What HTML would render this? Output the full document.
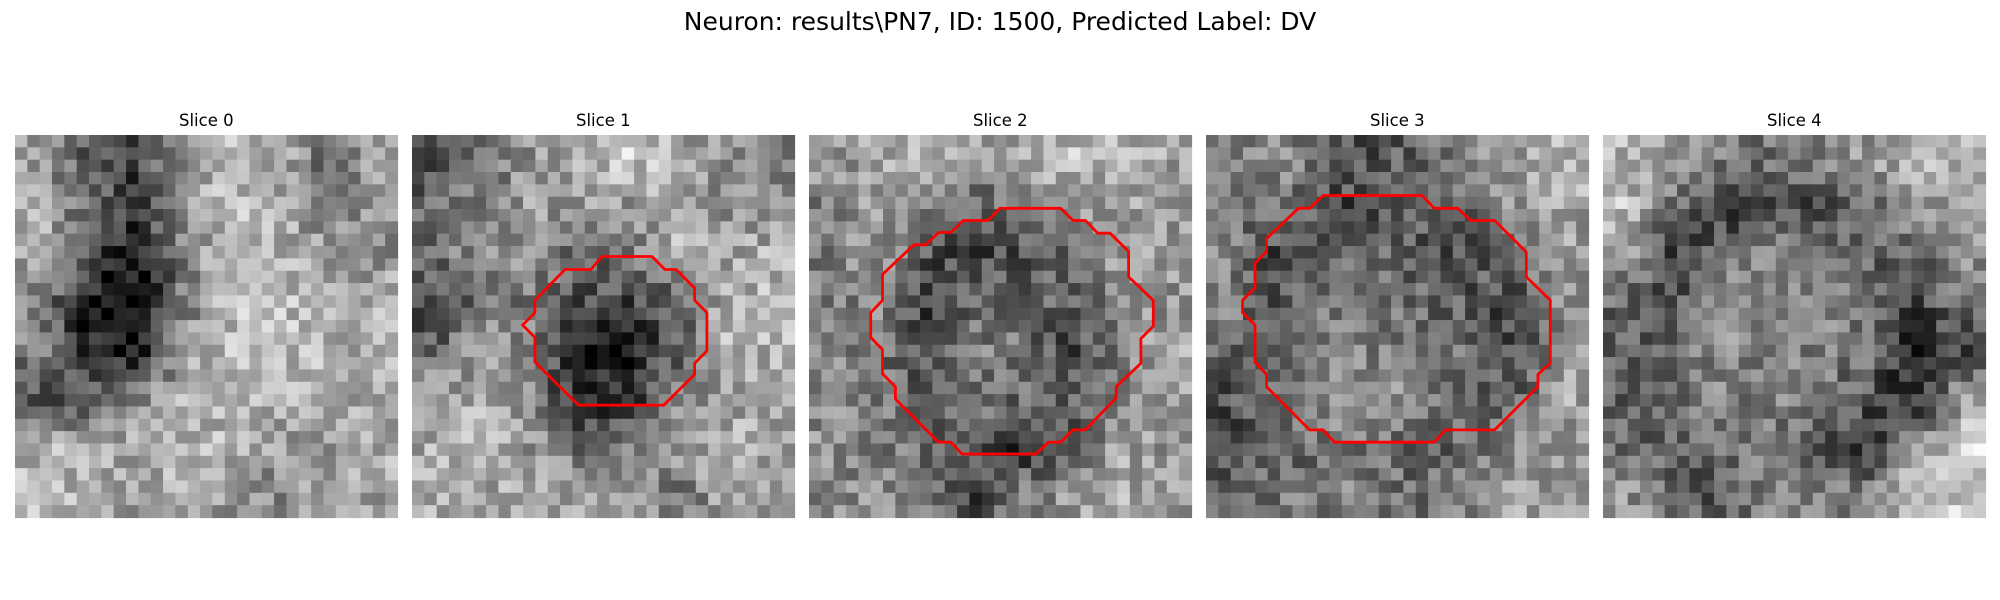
<!DOCTYPE html>
<html><head><meta charset="utf-8"><style>
html,body{margin:0;padding:0;background:#fff;}
svg{display:block;font-family:"DejaVu Sans","Liberation Sans",sans-serif;}
</style></head><body>
<svg id="fig" width="2000" height="600" viewBox="0 0 2000 600" xmlns="http://www.w3.org/2000/svg">
<text x="1000" y="30" text-anchor="middle" font-size="25" fill="#000">Neuron: results\PN7, ID: 1500, Predicted Label: DV</text>
</svg>
<script>
const sliceTitles = ["Slice 0","Slice 1","Slice 2","Slice 3","Slice 4"];
const gridN = 31;
const coarse0 = [
[150,90,80,140,175,165,120,155],[170,120,70,150,180,170,110,160],[160,90,50,130,185,175,160,140],[140,50,30,120,180,180,170,175],
[130,60,40,150,180,185,175,170],[90,100,140,165,175,170,150,165],[165,170,160,175,170,160,155,170],[175,170,150,165,150,130,160,160]];
const coarse1 = [
[90,110,150,175,190,170,140,130],[110,130,155,150,150,175,140,140],[120,140,140,110,120,170,160,170],[80,120,130,90,80,100,165,175],
[110,150,130,40,50,90,170,170],[160,170,140,50,60,130,160,160],[165,170,150,110,120,150,170,160],[170,165,160,160,150,120,155,150]];
const coarse2 = [
[150,160,170,150,165,180,175,160],[130,155,140,100,130,150,160,150],[130,150,90,80,90,120,155,150],[130,140,70,120,110,100,140,150],
[140,120,90,130,120,80,130,160],[140,130,100,120,110,100,140,160],[140,130,110,100,60,90,160,150],[140,140,120,80,130,150,165,150]];
const coarse3 = [
[130,140,110,90,110,140,150,170],[120,130,80,90,100,110,150,160],[130,80,110,110,100,90,130,150],[130,90,120,120,110,100,80,140],
[110,90,130,130,120,110,80,150],[90,110,140,150,140,110,110,160],[90,100,120,120,100,110,140,150],[110,120,130,130,110,140,160,150]];
const coarse4 = [
[170,160,130,120,130,150,180,170],[180,120,70,80,90,100,150,160],[150,70,120,130,120,100,100,150],[110,90,140,130,140,120,80,120],
[100,110,140,130,130,120,60,80],[100,120,130,130,130,90,50,150],[110,100,120,130,100,70,140,200],[150,110,90,140,130,120,200,190]];
const coarseGrids = [coarse0,coarse1,coarse2,coarse3,coarse4];
const contour1 = [[15.4,9.85],[19.45,9.85],[20.5,10.9],[21.4,10.9],[22.9,12.4],[22.9,13.4],[23.9,14.4],[23.9,17.5],[22.9,18.5],[22.9,19.4],[20.4,21.9],[13.5,21.9],[9.96,18.4],[9.96,16.4],[8.96,15.4],[9.96,14.4],[9.96,13.4],[12.4,10.9],[14.5,10.9]];
const contour2 = [[15.46,5.94],[20.4,5.94],[21.4,6.93],[22.4,6.93],[23.4,7.96],[24.4,7.96],[25.9,9.44],[25.9,11.5],[27.9,13.4],[27.9,15.5],[26.9,16.5],[26.9,18.5],[24.9,20.4],[24.9,21.3],[22.4,23.9],[21.4,23.9],[20.4,24.9],[19.4,24.9],[18.4,25.85],[12.4,25.85],[11.5,24.9],[10.5,24.9],[7,21.4],[7,20.4],[5.96,19.35],[5.96,17.4],[5,16.4],[5,14.4],[5.96,13.4],[5.96,11.3],[8.5,8.9],[9.47,8.9],[10.5,7.9],[11.5,7.9],[12.5,6.93],[14.5,6.93]];
const contour3 = [[9.5,4.9],[17.5,4.9],[18.5,5.94],[20.4,5.94],[21.45,6.93],[23.4,6.93],[25.96,9.5],[25.96,11.5],[27.9,13.4],[27.9,18.5],[26.9,19.4],[26.9,20.4],[23.4,23.9],[19.4,23.9],[18.5,24.9],[10.4,24.9],[9.5,23.9],[8.4,23.9],[4.9,20.4],[4.9,19.4],[3.97,18.4],[3.97,15.4],[2.97,14.4],[2.97,13.4],[3.97,12.4],[3.97,10.4],[4.9,9.44],[4.9,8.4],[7.5,5.94],[8.4,5.94]];
const contours = [null,contour1,contour2,contour3,null];

const NS="http://www.w3.org/2000/svg";
const svg=document.getElementById('fig');
const panelLeft0=15, panelStep=397, panelTop=135, panelSize=382.5;
const cell=panelSize/gridN;
function xScale(p,c){return panelLeft0+p*panelStep+c*cell;}
function yScale(r){return panelTop+r*cell;}
function hash(a,b,c){let h=(a*374761393+b*668265263+c*2147483647)>>>0;h=((h^(h>>>13))*1274126177)>>>0;return ((h^(h>>>16))>>>0)/4294967295;}
function sample(g,r,c){
  const fy=Math.min(Math.max((r+0.5)/gridN*8-0.5,0),7), fx=Math.min(Math.max((c+0.5)/gridN*8-0.5,0),7);
  const y0=Math.floor(fy), x0=Math.floor(fx), y1=Math.min(y0+1,7), x1=Math.min(x0+1,7);
  const ty=fy-y0, tx=fx-x0;
  return g[y0][x0]*(1-ty)*(1-tx)+g[y0][x1]*(1-ty)*tx+g[y1][x0]*ty*(1-tx)+g[y1][x1]*ty*tx;
}
coarseGrids.forEach((g,p)=>{
  const grp=document.createElementNS(NS,'g');
  
  
  for(let r=0;r<gridN;r++)for(let c=0;c<gridN;c++){
    let v=sample(g,r,c);
    v=140+(v-140)*1.2+(hash(r+1,c+1,p+1)-0.5)*90;
    v=Math.round(Math.max(0,Math.min(255,v)));
    const rc=document.createElementNS(NS,'rect');
    
    
    rc.setAttribute('x',xScale(p,c).toFixed(2));
    rc.setAttribute('y',yScale(r).toFixed(2));
    rc.setAttribute('width',(cell+0.6).toFixed(2));
    rc.setAttribute('height',(cell+0.6).toFixed(2));
    rc.setAttribute('fill','rgb('+v+','+v+','+v+')');
    grp.appendChild(rc);
  }
  svg.appendChild(grp);
  const t=document.createElementNS(NS,'text');
  
  
  t.setAttribute('x',(xScale(p,0)+panelSize/2).toFixed(1));
  t.setAttribute('y','126');
  t.setAttribute('text-anchor','middle');
  t.setAttribute('font-size','16.5');
  t.textContent=sliceTitles[p];
  svg.appendChild(t);
  const ct=contours[p];
  if(ct){
    const pl=document.createElementNS(NS,'polygon');
    
    
    pl.setAttribute('points',ct.map(q=>xScale(p,q[0]).toFixed(1)+','+yScale(q[1]).toFixed(1)).join(' '));
    pl.setAttribute('fill','none');
    pl.setAttribute('stroke','#ff0000');
    pl.setAttribute('stroke-width','2.8');
    pl.setAttribute('stroke-linejoin','round');
    svg.appendChild(pl);
  }
});
</script>
</body></html>
